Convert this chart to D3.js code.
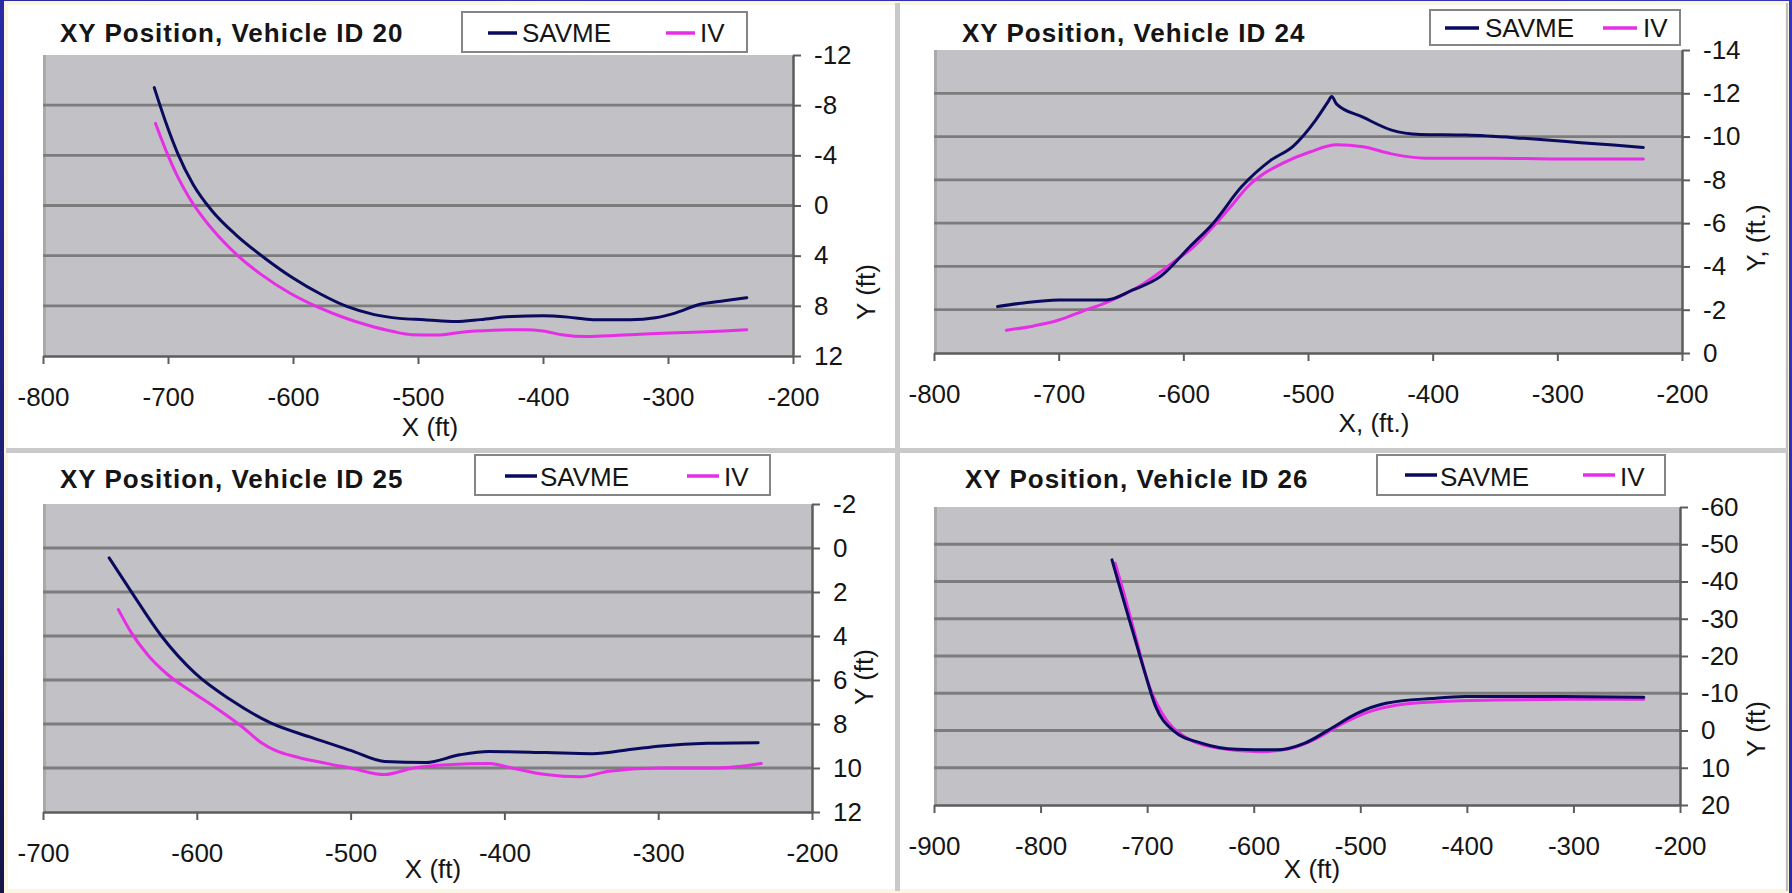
<!DOCTYPE html>
<html>
<head>
<meta charset="utf-8">
<script src="https://cdn.jsdelivr.net/npm/d3@7"></script>
<style>
  html, body { margin: 0; padding: 0; background: #2b2bb0; }
  svg { display: block; }
  text { font-family: "Liberation Sans", Arial, sans-serif; fill: #151515; }
</style>
</head>
<body>
<div id="chart"></div>
<script>
// ---- data ----
const titles = ['XY Position, Vehicle ID 20', 'XY Position, Vehicle ID 24',
                'XY Position, Vehicle ID 25', 'XY Position, Vehicle ID 26'];
const seriesNames = ['SAVME', 'IV'];
const xTitles = ['X (ft)', 'X, (ft.)', 'X (ft)', 'X (ft)'];
const yTitles = ['Y (ft)', 'Y, (ft.)', 'Y (ft)', 'Y (ft)'];

const xTicks20 = [-800, -700, -600, -500, -400, -300, -200];
const yTicks20 = [-12, -8, -4, 0, 4, 8, 12];
const xTicks24 = [-800, -700, -600, -500, -400, -300, -200];
const yTicks24 = [-14, -12, -10, -8, -6, -4, -2, 0];
const xTicks25 = [-700, -600, -500, -400, -300, -200];
const yTicks25 = [-2, 0, 2, 4, 6, 8, 10, 12];
const xTicks26 = [-900, -800, -700, -600, -500, -400, -300, -200];
const yTicks26 = [-60, -50, -40, -30, -20, -10, 0, 10, 20];

// [x ft, y ft]
const savme20 = [[-711,-9.4],[-702,-6.7],[-692,-4.1],[-680,-1.7],[-665,0.4],[-645,2.4],[-622,4.24],
  [-600,5.78],[-578,7.06],[-557,8.05],[-535,8.7],[-515,9.0],[-495,9.1],[-470,9.25],[-450,9.1],
  [-425,8.85],[-400,8.8],[-380,8.9],[-360,9.1],[-330,9.1],[-310,8.95],[-295,8.6],[-275,7.9],
  [-255,7.6],[-237,7.35]];
const iv20 = [[-710,-6.55],[-700,-4.0],[-692,-2.24],[-683,-0.62],[-672,0.97],[-660,2.41],[-644,4.01],
  [-625,5.53],[-603,6.96],[-580,8.11],[-560,8.91],[-540,9.55],[-520,10.05],[-505,10.3],[-485,10.33],
  [-465,10.1],[-440,9.95],[-415,9.9],[-400,10.0],[-385,10.3],[-365,10.45],[-340,10.35],[-310,10.2],
  [-280,10.1],[-255,10.0],[-237,9.9]];

const savme24 = [[-749,-2.15],[-730,-2.3],[-700,-2.45],[-662,-2.45],[-641,-2.9],[-618,-3.55],[-595,-4.9],
  [-576,-6.0],[-553,-7.7],[-530,-8.9],[-512,-9.55],[-494,-10.75],[-484,-11.6],[-481,-11.85],[-477,-11.5],
  [-456,-10.9],[-433,-10.3],[-410,-10.1],[-373,-10.07],[-327,-9.92],[-281,-9.72],[-231,-9.5]];
const iv24 = [[-742,-1.05],[-720,-1.25],[-701,-1.5],[-680,-1.95],[-659,-2.4],[-632,-3.2],[-609,-4.15],
  [-590,-5.0],[-576,-5.85],[-560,-6.9],[-549,-7.65],[-535,-8.3],[-521,-8.75],[-498,-9.3],[-477,-9.62],
  [-456,-9.53],[-433,-9.2],[-406,-9.0],[-350,-9.0],[-281,-8.96],[-231,-8.96]];

const savme25 = [[-657,0.45],[-642,2.05],[-623,4.0],[-601,5.7],[-578,6.9],[-552,7.95],[-526,8.6],
  [-500,9.2],[-478,9.7],[-451,9.75],[-429,9.4],[-410,9.25],[-373,9.3],[-343,9.35],[-317,9.15],
  [-298,9.0],[-268,8.88],[-235,8.85]];
const iv25 = [[-651,2.8],[-643,3.8],[-632,4.85],[-619,5.75],[-604,6.5],[-588,7.25],[-571,8.1],
  [-558,8.85],[-549,9.2],[-535,9.5],[-515,9.8],[-500,10.0],[-478,10.3],[-459,10.0],[-437,9.85],
  [-410,9.8],[-395,10.0],[-373,10.3],[-351,10.4],[-332,10.15],[-298,10.0],[-261,10.0],[-233,9.8]];

const savme26 = [[-733,-45.8],[-724,-36.8],[-713,-26.1],[-702,-15.4],[-692,-6.4],[-676,-0.1],[-649,3.4],
  [-616,5.05],[-579,5.2],[-552,3.4],[-530,-0.1],[-503,-4.6],[-476,-7.3],[-433,-8.6],[-401,-9.1],
  [-320,-9.1],[-234,-8.9]];
const iv26 = [[-730,-44.9],[-721,-36],[-710,-24.3],[-700,-13.6],[-686,-4.6],[-665,1.6],[-632,4.8],
  [-595,5.7],[-568,5.0],[-541,2.1],[-519,-1.5],[-492,-5.0],[-465,-6.85],[-428,-7.7],[-374,-8.2],
  [-293,-8.4],[-234,-8.4]];

// ---- page frame ----
const W = 1792, H = 893;
const svg = d3.select('#chart').append('svg').attr('width', W).attr('height', H);

const grad = svg.append('defs').append('linearGradient').attr('id', 'frame')
  .attr('x1', 1).attr('y1', 0).attr('x2', 0).attr('y2', 1);
grad.append('stop').attr('offset', 0).attr('stop-color', '#3434c4');
grad.append('stop').attr('offset', 0.5).attr('stop-color', '#2a2aa6');
grad.append('stop').attr('offset', 1).attr('stop-color', '#151548');

svg.append('rect').attr('width', W).attr('height', H).attr('fill', 'url(#frame)');
svg.append('rect').attr('x', 6).attr('y', 3).attr('width', 1781).attr('height', 888)
  .attr('fill', '#ffffff').attr('stroke', '#fbf6df').attr('stroke-width', 4);
svg.append('rect').attr('x', 1786).attr('y', 3).attr('width', 2).attr('height', 888).attr('fill', '#bdbdbd');
// panel separators
svg.append('rect').attr('x', 895).attr('y', 3).attr('width', 5).attr('height', 888).attr('fill', '#c9c9c9');
svg.append('rect').attr('x', 6).attr('y', 448).attr('width', 1781).attr('height', 5).attr('fill', '#c9c9c9');

const colors = ['#0a0a5e', '#e62ee6'];
const font = 26;

// ---- panel layout ----
const panels = [
  { xTicks: xTicks20, yTicks: yTicks20, series: [savme20, iv20],
    left: 43, right: 793, top: 55, bottom: 356, titleX: 60, titleY: 42,
    leg: { x: 462, y: 12, w: 285, h: 40, l1: 488, t1: 522, l2: 666, t2: 700, ly: 33, ty: 42, lw: 29 },
    xt: [430, 436], yt: [866, 292] },
  { xTicks: xTicks24, yTicks: yTicks24, series: [savme24, iv24],
    left: 934, right: 1682, top: 50, bottom: 353, titleX: 962, titleY: 42,
    leg: { x: 1430, y: 10, w: 250, h: 35, l1: 1445, t1: 1485, l2: 1603, t2: 1643, ly: 28, ty: 37, lw: 34 },
    xt: [1374, 432], yt: [1756, 238] },
  { xTicks: xTicks25, yTicks: yTicks25, series: [savme25, iv25],
    left: 43, right: 812, top: 504, bottom: 812, titleX: 60, titleY: 488,
    leg: { x: 475, y: 455, w: 295, h: 40, l1: 505, t1: 540, l2: 687, t2: 724, ly: 476, ty: 486, lw: 32 },
    xt: [433, 878], yt: [864, 677] },
  { xTicks: xTicks26, yTicks: yTicks26, series: [savme26, iv26],
    left: 934, right: 1680, top: 507, bottom: 805, titleX: 965, titleY: 488,
    leg: { x: 1377, y: 455, w: 288, h: 40, l1: 1405, t1: 1440, l2: 1583, t2: 1620, ly: 475, ty: 486, lw: 32 },
    xt: [1312, 878], yt: [1756, 729] }
];

panels.forEach((p, i) => {
  const xDom = d3.extent(p.xTicks), yDom = d3.extent(p.yTicks);
  const x = d3.scaleLinear().domain(xDom).range([p.left, p.right]);
  // Y runs downward: most negative at the top
  const y = d3.scaleLinear().domain(yDom).range([p.top, p.bottom]);
  const g = svg.append('g');

  g.append('rect').attr('x', p.left).attr('y', p.top)
    .attr('width', p.right - p.left).attr('height', p.bottom - p.top).attr('fill', '#c2c1c5');
  g.append('line').attr('x1', p.left + 1.5).attr('x2', p.left + 1.5).attr('y1', p.top).attr('y2', p.bottom)
    .attr('stroke', '#a9a9ab').attr('stroke-width', 3);

  // gridlines
  g.selectAll('line.grid')
    .data(p.yTicks.filter(d => d !== yDom[0] && d !== yDom[1]))
    .join('line').attr('class', 'grid')
    .attr('x1', p.left).attr('x2', p.right)
    .attr('y1', d => y(d)).attr('y2', d => y(d))
    .attr('stroke', '#7c7c7c').attr('stroke-width', 2.8);

  // axes
  const xa = g.append('g').attr('transform', `translate(0,${p.bottom})`)
    .call(d3.axisBottom(x).tickValues(p.xTicks).tickSize(8).tickSizeOuter(0)
      .tickPadding(24).tickFormat(d => String(d)));
  const ya = g.append('g').attr('transform', `translate(${p.right},0)`)
    .call(d3.axisRight(y).tickValues(p.yTicks).tickSize(8).tickSizeOuter(0)
      .tickPadding(13).tickFormat(d => String(d)));
  [xa, ya].forEach(a => {
    a.attr('font-size', font).attr('font-family', '"Liberation Sans", Arial, sans-serif');
    a.select('.domain').attr('stroke', '#5c5c5c').attr('stroke-width', 2.5);
    a.selectAll('.tick line').attr('stroke', '#5c5c5c').attr('stroke-width', 2);
    a.selectAll('.tick text').attr('fill', '#151515');
  });

  // series
  const line = d3.line().x(d => x(d[0])).y(d => y(d[1])).curve(d3.curveMonotoneX);
  [1, 0].forEach(k => {
    g.append('path').datum(p.series[k]).attr('d', line)
      .attr('fill', 'none').attr('stroke', colors[k]).attr('stroke-width', 3)
      .attr('stroke-linejoin', 'round').attr('stroke-linecap', 'round');
  });

  // title
  g.append('text').attr('x', p.titleX).attr('y', p.titleY)
    .attr('font-size', font).attr('font-weight', 'bold').attr('letter-spacing', 1)
    .text(titles[i]);

  // legend
  const L = p.leg;
  g.append('rect').attr('x', L.x).attr('y', L.y).attr('width', L.w).attr('height', L.h)
    .attr('fill', '#ffffff').attr('stroke', '#858585').attr('stroke-width', 2);
  [[L.l1, L.t1], [L.l2, L.t2]].forEach((pos, k) => {
    g.append('line').attr('x1', pos[0]).attr('x2', pos[0] + L.lw).attr('y1', L.ly).attr('y2', L.ly)
      .attr('stroke', colors[k]).attr('stroke-width', 3.5);
    g.append('text').attr('x', pos[1]).attr('y', L.ty).attr('font-size', font).text(seriesNames[k]);
  });

  // axis titles
  g.append('text').attr('x', p.xt[0]).attr('y', p.xt[1]).attr('text-anchor', 'middle')
    .attr('font-size', font).text(xTitles[i]);
  g.append('text').attr('transform', `translate(${p.yt[0]},${p.yt[1]}) rotate(-90)`)
    .attr('text-anchor', 'middle').attr('dy', '0.35em').attr('font-size', font).text(yTitles[i]);
});
</script>
</body>
</html>
